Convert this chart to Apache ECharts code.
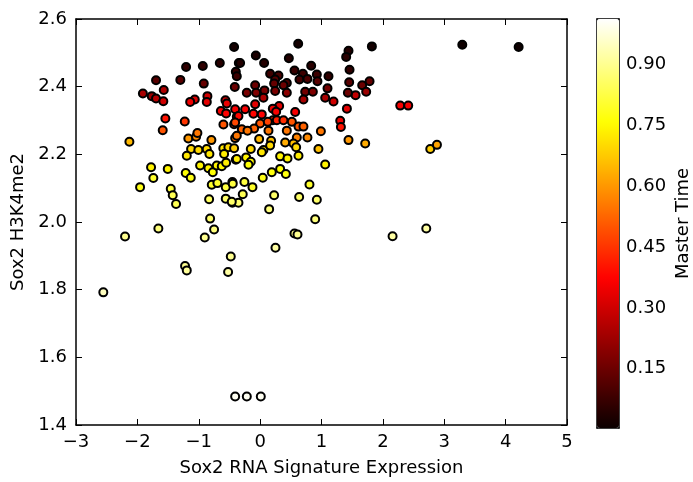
<!DOCTYPE html>
<html lang="en">
<head>
  <meta charset="UTF-8">
  <title>Sox2 scatter</title>
  <script src="https://cdn.jsdelivr.net/npm/echarts@6/dist/echarts.min.js"></script>
</head>
<body style="margin:0;background:#fff;">
  <div id="main" style="width:693px;height:482px;"></div>
</body>
<script>
  // Sox2 RNA signature expression (x), H3K4me2 (y), master time (colour)
  var rnaExpr = [
    -0.424, -1.206, -0.934, -0.657, -0.347, -0.396, -0.38, -1.696, -1.30, -0.918,
    -0.413, -1.57, -1.91, -1.766, -1.696, -1.577, -1.065, -1.14, -0.859, -0.869,
    -0.565, -0.543, -0.64, -0.554, -0.407, -0.38, -1.544, -1.228, -0.598, -0.424,
    -1.587, -0.407, -2.13, -1.17, -1.043, -1.022, -0.794, -1.125, -1.006, -0.87,
    -0.6, -0.517, -0.424,
    0.62, 1.821, -0.07, 0.065, 0.468, 0.832, 1.44, 1.402, -0.326, 0.56,
    0.697, 0.163, 0.299, 0.245, 0.435, 0.641, 0.771, 0.924, 0.934, 1.114,
    1.457, 1.451, 1.663, 1.783, 1.728, 1.555, 1.43, 1.098, -0.217, -0.081,
    -0.065, 0.071, 0.054, 0.228, 0.245, 0.38, 0.435, 0.734, 0.859, 0.706,
    1.06, 1.196, 1.414, 2.283, 2.413, 0.31, 0.207, 0.261, -0.081, -0.245,
    -0.109, -0.353, 0.027, 0.571, 0.207, 0.272, 0.38, 1.305, 1.316, 0.517,
    -0.407, 0.0, 0.125, 0.625, 0.706, -0.298, -0.098, -0.206, 0.136, 0.435,
    0.99, 0.598, 0.771, 1.44, 1.712, -0.38, 0.408, 0.543, -0.016, 0.179,
    -0.152, 0.054, 0.587, 0.95, 0.163,
    3.294, 4.212, 2.772, 2.881,
    -1.195, -0.826, -0.587, -0.978, -0.842, -0.771, -0.706, -0.625, -0.554, -0.396,
    -1.777, -1.505, -1.74, -1.212, -1.13, -1.956, -1.456, -1.424, -1.37, -0.788,
    -0.696, -0.56, -0.452, -0.831, -0.56, -0.452, -0.353, -0.815, -1.658, -2.201,
    -0.75, -0.902, -0.478, -1.223, -1.195, -0.522, -2.555,
    -0.38, -0.228, -0.152, -0.19, 0.027, 0.326, 0.446, 0.625, 1.06, 0.043,
    0.19, 0.326, 0.419, -0.446, -0.256, -0.125, -0.283, -0.462, 0.804, 0.228,
    0.636, 0.924, 0.147, 0.897, 0.56, 0.609, 0.25, 2.158,
    2.707,
    -0.407, -0.217, 0.011
  ];
  var h3k4me2 = [
    2.517, 2.458, 2.461, 2.470, 2.470, 2.444, 2.431, 2.419, 2.420, 2.409,
    2.399, 2.39, 2.38, 2.372, 2.365, 2.357, 2.362, 2.355, 2.372, 2.355,
    2.36, 2.35, 2.328, 2.321, 2.333, 2.311, 2.306, 2.297, 2.288, 2.289,
    2.271, 2.248, 2.237, 2.247, 2.252, 2.263, 2.242, 2.216, 2.213, 2.216,
    2.218, 2.221, 2.218,
    2.527, 2.519, 2.492, 2.47, 2.484, 2.462, 2.506, 2.488, 2.47, 2.448,
    2.438, 2.438, 2.433, 2.421, 2.411, 2.421, 2.423, 2.436, 2.416, 2.431,
    2.45, 2.413, 2.404, 2.416, 2.385, 2.375, 2.382, 2.395, 2.382, 2.404,
    2.382, 2.389, 2.367, 2.409, 2.387, 2.404, 2.382, 2.385, 2.385, 2.362,
    2.367, 2.356, 2.335, 2.344, 2.344, 2.343, 2.335, 2.326, 2.348, 2.333,
    2.32, 2.313, 2.318, 2.325, 2.301, 2.301, 2.301, 2.299, 2.281, 2.296,
    2.294, 2.291, 2.296, 2.282, 2.282, 2.274, 2.276, 2.27, 2.27, 2.27,
    2.268, 2.25, 2.25, 2.242, 2.232, 2.255, 2.235, 2.232, 2.245, 2.24,
    2.216, 2.213, 2.221, 2.216, 2.226,
    2.524, 2.517, 2.216, 2.228,
    2.196, 2.201, 2.201, 2.167, 2.159, 2.147, 2.167, 2.165, 2.175, 2.184,
    2.162, 2.157, 2.13, 2.145, 2.131, 2.103, 2.098, 2.079, 2.053, 2.11,
    2.115, 2.103, 2.118, 2.067, 2.069, 2.057, 2.057, 2.01, 1.981, 1.957,
    1.978, 1.954, 1.898, 1.87, 1.857, 1.852, 1.792,
    2.186, 2.191, 2.178, 2.169, 2.206, 2.194, 2.188, 2.196, 2.17, 2.131,
    2.147, 2.157, 2.142, 2.113, 2.118, 2.103, 2.082, 2.06, 2.111, 2.079,
    2.074, 2.066, 2.038, 2.008, 1.966, 1.963, 1.924, 1.958,
    1.981,
    1.484, 1.484, 1.484
  ];
  var masterTime = [
    0.02, 0.06, 0.06, 0.05, 0.04, 0.07, 0.08, 0.12, 0.12, 0.14,
    0.15, 0.25, 0.24, 0.22, 0.26, 0.30, 0.32, 0.35, 0.30, 0.33,
    0.30, 0.34, 0.36, 0.37, 0.36, 0.38, 0.40, 0.45, 0.50, 0.45,
    0.50, 0.55, 0.65, 0.60, 0.58, 0.55, 0.60, 0.70, 0.70, 0.70,
    0.72, 0.70, 0.68,
    0.02, 0.02, 0.03, 0.04, 0.04, 0.05, 0.04, 0.05, 0.04, 0.07,
    0.08, 0.08, 0.10, 0.12, 0.10, 0.09, 0.10, 0.08, 0.12, 0.06,
    0.06, 0.12, 0.15, 0.14, 0.22, 0.28, 0.15, 0.16, 0.17, 0.15,
    0.18, 0.17, 0.25, 0.14, 0.17, 0.15, 0.20, 0.16, 0.18, 0.24,
    0.24, 0.30, 0.33, 0.36, 0.36, 0.33, 0.35, 0.36, 0.33, 0.36,
    0.38, 0.38, 0.37, 0.36, 0.42, 0.42, 0.44, 0.34, 0.40, 0.50,
    0.48, 0.50, 0.47, 0.50, 0.52, 0.52, 0.52, 0.55, 0.55, 0.55,
    0.55, 0.57, 0.58, 0.60, 0.63, 0.55, 0.63, 0.66, 0.65, 0.66,
    0.70, 0.72, 0.70, 0.66, 0.70,
    0.01, 0.01, 0.68, 0.62,
    0.72, 0.72, 0.73, 0.74, 0.74, 0.76, 0.74, 0.75, 0.73, 0.74,
    0.74, 0.74, 0.80, 0.76, 0.78, 0.78, 0.82, 0.84, 0.84, 0.80,
    0.80, 0.82, 0.80, 0.85, 0.86, 0.86, 0.87, 0.86, 0.88, 0.90,
    0.88, 0.90, 0.90, 0.90, 0.91, 0.92, 0.95,
    0.73, 0.74, 0.75, 0.76, 0.72, 0.74, 0.74, 0.73, 0.74, 0.78,
    0.77, 0.76, 0.77, 0.82, 0.82, 0.80, 0.84, 0.86, 0.80, 0.86,
    0.86, 0.86, 0.88, 0.88, 0.90, 0.90, 0.92, 0.92,
    0.92,
    1.0, 1.0, 1.0
  ];
  var colorbarTicks = [0.15, 0.30, 0.45, 0.60, 0.75, 0.90];
  var timeMin = 0.004, timeMax = 1.013;

  var points = rnaExpr.map(function (x, i) { return [x, h3k4me2[i], masterTime[i]]; });

  // matplotlib "hot" colormap
  function hot(t) {
    var r = Math.min(1, 0.0416 + t * (1 - 0.0416) / 0.365079);
    var g = t < 0.365079 ? 0 : Math.min(1, (t - 0.365079) / (0.746032 - 0.365079));
    var b = t < 0.746032 ? 0 : (t - 0.746032) / (1 - 0.746032);
    return 'rgb(' + Math.round(r * 255) + ',' + Math.round(g * 255) + ',' + Math.round(b * 255) + ')';
  }
  var hotColors = [];
  for (var k = 0; k <= 60; k++) hotColors.push(hot(k / 60));

  var font = 'DejaVu Sans';
  var txt = { color: '#000', fontFamily: font, fontSize: 18 };
  var line = { show: true, onZero: false, lineStyle: { color: '#000', width: 1.5 } };
  var tickIn = { show: true, inside: true, length: 6, lineStyle: { color: '#000', width: 1 } };
  var minus = function (v) { return String(v).replace('-', '\u2212'); };

  var myChart = echarts.init(document.getElementById('main'));
  var option = {
    backgroundColor: '#fff',
    animation: false,
    grid: [
      { left: 76, top: 19, width: 491, height: 409 },
      { left: 597, top: 19, width: 22, height: 409 }
    ],
    xAxis: [
      {
        gridIndex: 0, type: 'value', min: -3, max: 5, interval: 1,
        name: 'Sox2 RNA Signature Expression', nameLocation: 'middle', nameGap: 34,
        nameTextStyle: txt,
        axisLine: line, axisTick: tickIn, splitLine: { show: false },
        axisLabel: Object.assign({ margin: 8, formatter: minus }, txt)
      },
      {
        gridIndex: 0, type: 'value', min: -3, max: 5, interval: 1, position: 'top',
        axisLine: line, axisTick: tickIn, axisLabel: { show: false }, splitLine: { show: false }
      },
      {
        gridIndex: 1, type: 'value', min: 0, max: 1,
        axisLine: line, axisTick: { show: false }, axisLabel: { show: false }, splitLine: { show: false }
      },
      {
        gridIndex: 1, type: 'value', min: 0, max: 1, position: 'top',
        axisLine: line, axisTick: { show: false }, axisLabel: { show: false }, splitLine: { show: false }
      }
    ],
    yAxis: [
      {
        gridIndex: 0, type: 'value', min: 1.4, max: 2.6, interval: 0.2,
        name: 'Sox2 H3K4me2', nameLocation: 'middle', nameGap: 42,
        nameTextStyle: txt,
        axisLine: line, axisTick: tickIn, splitLine: { show: false },
        axisLabel: Object.assign({ margin: 9, formatter: function (v) { return v.toFixed(1); } }, txt)
      },
      {
        gridIndex: 0, type: 'value', min: 1.4, max: 2.6, interval: 0.2, position: 'right',
        axisLine: line, axisTick: tickIn, axisLabel: { show: false }, splitLine: { show: false }
      },
      {
        gridIndex: 1, type: 'value', min: timeMin, max: timeMax, position: 'right',
        name: 'Master Time', nameLocation: 'middle', nameGap: 55,
        nameTextStyle: txt,
        axisLine: line,
        axisTick: Object.assign({}, tickIn, { customValues: colorbarTicks }),
        splitLine: { show: false },
        axisLabel: Object.assign({ margin: 7, customValues: colorbarTicks,
          formatter: function (v) { return v.toFixed(2); } }, txt)
      },
      {
        gridIndex: 1, type: 'value', min: timeMin, max: timeMax, position: 'left',
        axisLine: line, axisTick: { show: false }, axisLabel: { show: false }, splitLine: { show: false }
      }
    ],
    visualMap: {
      type: 'continuous',
      seriesIndex: 0,
      dimension: 2,
      min: timeMin,
      max: timeMax,
      left: 597,
      top: 19,
      padding: 0,
      itemWidth: 22,
      itemHeight: 409,
      calculable: false,
      hoverLink: false,
      text: null,
      inRange: { color: hotColors }
    },
    series: [{
      type: 'scatter',
      xAxisIndex: 0,
      yAxisIndex: 0,
      symbolSize: 8,
      itemStyle: { borderColor: '#000', borderWidth: 2, opacity: 1 },
      data: points
    }]
  };
  myChart.setOption(option);
</script>
</html>
